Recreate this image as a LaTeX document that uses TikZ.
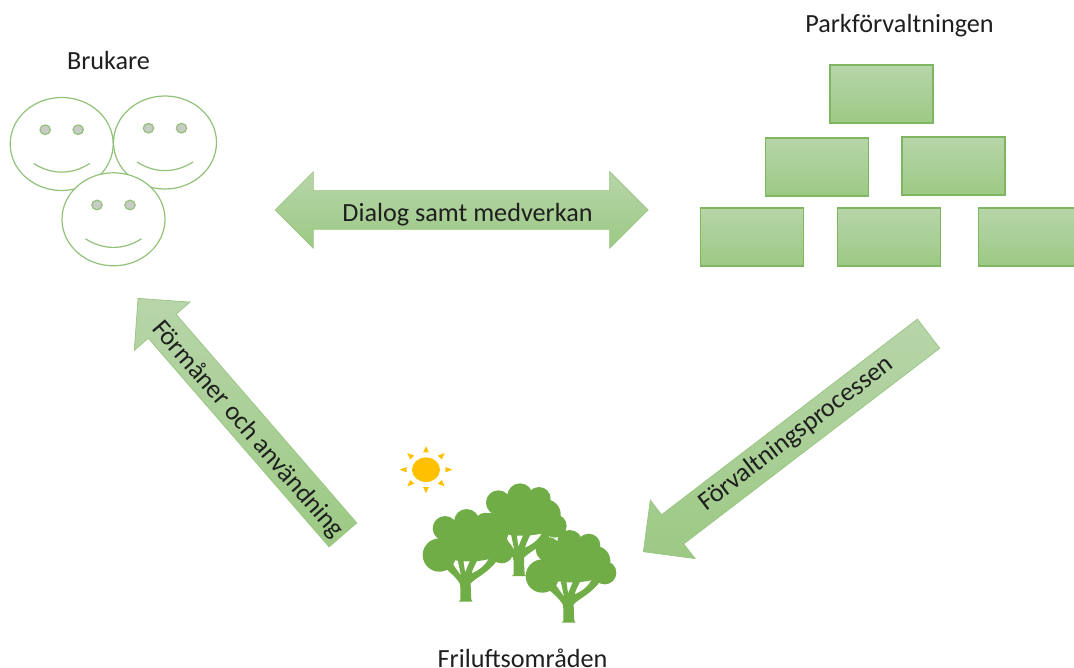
\documentclass[tikz,border=0pt]{standalone}
\usepackage{fontspec}
\setmainfont{Carlito}
\usetikzlibrary{shapes.arrows, shapes.geometric}
\definecolor{lineg}{HTML}{7FB662}
\definecolor{lightg}{HTML}{B7D5A9}
\definecolor{darkg}{HTML}{9CC984}
\definecolor{treeg}{HTML}{70AD47}
\definecolor{sung}{HTML}{FFC000}
\definecolor{eyeg}{HTML}{C9CBC7}
\begin{document}
\begin{tikzpicture}[
            x=1pt, y=-1pt,
            caixa/.style={shape=rectangle, draw=lineg, line width=1.1pt, top color=lightg, bottom color=darkg, minimum width=103pt, minimum height=58pt, inner sep=0pt},
            seta/.style={shape=single arrow, draw=lineg!80, line width=.7pt, top color=lightg, bottom color=darkg, inner sep=0pt, text height=36pt, text depth=0pt, single arrow head extend=18.5pt, shape border rotate=180, anchor=tip},
            setadupla/.style={shape=double arrow, draw=lineg!80, line width=.7pt, top color=lightg, bottom color=darkg, inner sep=0pt, text height=38pt, text depth=0pt, double arrow head extend=19pt},
            rotulo/.style={font=\fontsize{26.2}{30}\selectfont, text=black!88, inner sep=0pt},
            rosto/.style={shape=ellipse, draw=lineg!85, line width=1.2pt, fill=white, minimum width=103pt, minimum height=93pt, inner sep=0pt},
            olho/.style={draw=lineg!85, line width=1.2pt, fill=eyeg},
            boca/.style={draw=lineg!85, line width=1.2pt},
            arvore/.pic={
                \fill[treeg, scale=.3333] (-62,-220) circle[radius=37] (3,-240) circle[radius=38] (60,-232) circle[radius=35]
                    (108,-150) circle[radius=35] (-79,-140) circle[radius=50] (80,-185) circle[radius=45]
                    (-30,-190) circle[radius=50] (30,-195) circle[radius=50]
                    (10,-165) ellipse[x radius=112, y radius=44];
                \fill[treeg, scale=.3333] (-21,0) -- (-16,-5) .. controls (-16,-30) and (-15,-45) .. (-18,-55)
                    .. controls (-30,-75) and (-50,-90) .. (-70,-108) -- (-45,-125)
                    .. controls (-35,-105) and (-25,-95) .. (-14,-78) -- (-24,-125) -- (-7,-125)
                    -- (-2,-88) -- (15,-128) -- (35,-125) .. controls (25,-105) and (20,-95) .. (18,-85)
                    .. controls (40,-95) and (60,-108) .. (72,-135) -- (95,-125)
                    .. controls (70,-88) and (30,-72) .. (15,-55) .. controls (15,-40) and (16,-20) .. (17,-5) -- (21,0) -- cycle;
            },
        ]
        \useasboundingbox (0,0) rectangle (1074,668);

        % organisation
        \node[caixa] (topo) at (881.5,94) {};
        \node[caixa] (meioa) at (817.3,167) {};
        \node[caixa] (meiob) at (953.5,166) {};
        \node[caixa] (baixoa) at (751.8,237) {};
        \node[caixa] (baixob) at (889.2,237) {};
        \node[caixa] (baixoc) at (1030,237) {};

        % faces
        \foreach \nome/\cx/\cy in {rostoa/61.7/144, rostob/165/142.5, rostoc/113.5/219.3} {
            \node[rosto] (\nome) at (\cx,\cy) {};
            \draw[olho] (\cx-16.5,\cy-14.3) ellipse[x radius=5.2, y radius=4.8];
            \draw[olho] (\cx+16.5,\cy-14.3) ellipse[x radius=5.2, y radius=4.8];
            \draw[boca] (\cx-28,\cy+19.5) .. controls (\cx-10,\cy+31) and (\cx+10,\cy+31) .. (\cx+28,\cy+19.5);
        }

        % trees and sun
        \pic at (519,576) {arvore};
        \pic at (465.7,601.7) {arvore};
        \pic at (568.7,622.7) {arvore};
        \fill[sung] (426,469.7) ellipse[x radius=14, y radius=12.3];
        \foreach \ang in {0,45,...,315} {
            \fill[sung, shift={(426,469.7)}, xscale=1.08, yscale=.96, rotate=\ang] (18,-2.7) -- (24.5,0) -- (18,2.7) -- cycle;
        }

        % arrows
        \node[setadupla, minimum height=373pt] (dialogo) at (461.5,210) {};
        \node[seta, minimum height=313pt, rotate=-49.1] (formaner) at (137.7,298) {};
        \node[seta, minimum height=359pt, rotate=37.4] (processo) at (643,552) {};

        \node[rotulo] (tdialogo) at (467.5,214.5) {Dialog samt medverkan};
        \node[rotulo, rotate=-49.1] (tformaner) at (247.5,429.5) {Förmåner och användning};
        \node[rotulo, rotate=37.4] (tprocesso) at (796.2,434) {Förvaltningsprocessen};

        \node[rotulo] (brukare) at (108.5,61) {Brukare};
        \node[rotulo] (park) at (899.5,25.5) {Parkförvaltningen};
        \node[rotulo] (frilufts) at (522.5,658) {Friluftsområden};
    \end{tikzpicture}
\end{document}
